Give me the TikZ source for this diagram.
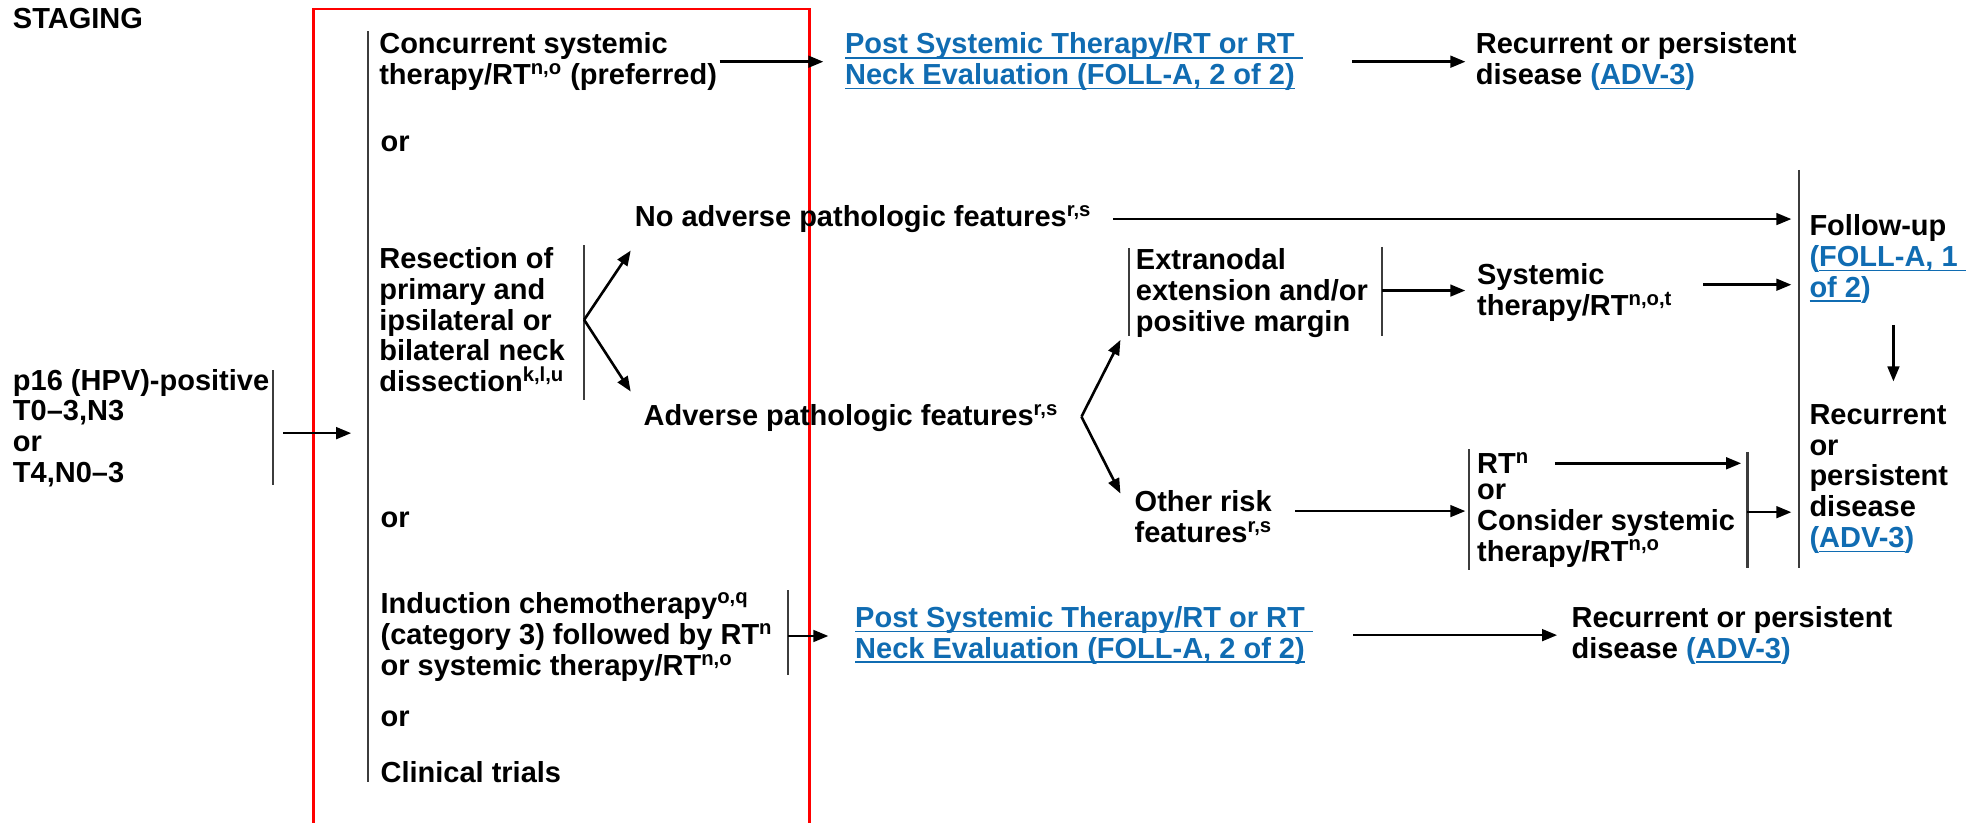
\documentclass[tikz,border=0pt]{standalone}
\usepackage{fontspec}
\setmainfont{Liberation Sans}
\usetikzlibrary{arrows.meta}
\definecolor{linkblue}{RGB}{16,108,178}
\definecolor{bargray}{RGB}{60,60,60}
\newcommand{\ulink}[1]{\setbox0\hbox{#1}\rlap{\rule[-2.4pt]{\wd0}{0.7pt}}\box0}

\begin{document}
\begin{tikzpicture}[x=0.6295pt, y=-0.6295pt, >={Triangle[length=7.5pt,width=5.8pt]},
  lbl/.style={anchor=west, inner sep=0pt, align=left, font=\fontsize{14.5}{15.4}\selectfont\bfseries},
  lnk/.style={lbl, text=linkblue},
  vline/.style={draw=bargray, line width=1.1pt},
  conn/.style={->, line width=1.3pt}]
\useasboundingbox (0,0) rectangle (1568,653);
\draw[red, line width=1.2pt] (249,7) rectangle (643,680);

\node[lbl] (stg) at (10,15) {STAGING};
\node[lbl] (p16) at (10,340) {p16 (HPV)-positive\\T0–3,N3\\or\\T4,N0–3};
\draw[vline] (217,294) -- coordinate[pos=.55] (b0) (217,385);
\draw[vline] (292,25) -- coordinate[midway] (B1) (292,621);

\node[lbl] (cst) at (301,49) {Concurrent systemic\\therapy/RT\textsuperscript{n,o} (preferred)};
\node[lnk] (pe1) at (671,49) {\ulink{Post Systemic Therapy/RT or RT\ }\\\ulink{Neck Evaluation (FOLL-A, 2 of 2)}};
\node[lbl] (rd1) at (1172,49) {Recurrent or persistent\\disease {\color{linkblue}(\ulink{ADV-3})}};
\node[lbl] (or1) at (302,114) {or};

\node[lbl] (res) at (301,254) {Resection of\\primary and\\ipsilateral or\\bilateral neck\\dissection\textsuperscript{k,l,u}};
\draw[vline] (464,195) -- coordinate[pos=.48] (b2) (464,318);
\node[lbl] (nap) at (504,174) {No adverse pathologic features\textsuperscript{r,s}};
\node[lbl] (ap) at (511,332) {Adverse pathologic features\textsuperscript{r,s}};
\node[lbl] (ext) at (902,233) {Extranodal\\extension and/or\\positive margin};
\draw[vline] (897,197) -- (897,267);
\draw[vline] (1098,196) -- coordinate[pos=.49] (b4) (1098,267);
\node[lbl] (sys) at (1173,232.5) {Systemic\\therapy/RT\textsuperscript{n,o,t}};
\draw[vline] (1429,135) -- coordinate[midway] (B2) (1429,451);
\node[lbl] (fu) at (1437,205.5) {Follow-up\\{\color{linkblue}(\ulink{FOLL-A, 1\ }}\\{\color{linkblue}\ulink{of 2})}};
\node[lbl] (rd2) at (1437,380.5) {Recurrent\\or\\persistent\\disease\\{\color{linkblue}(\ulink{ADV-3})}};
\node[lbl] (orf) at (901,410.5) {Other risk\\features\textsuperscript{r,s}};
\draw[vline] (1167,357) -- coordinate[pos=.51] (b5) (1167,453);
\node[lbl] (rt) at (1173,368) {RT\textsuperscript{n}};
\node[lbl] (cs) at (1173,417.5) {or\\Consider systemic\\therapy/RT\textsuperscript{n,o}};
\draw[vline] (1388,359) -- coordinate[pos=.52] (b6) (1388,451);

\node[lbl] (or2) at (302,413) {or};
\node[lbl] (ind) at (302,506) {Induction chemotherapy\textsuperscript{o,q}\\(category 3) followed by RT\textsuperscript{n}\\or systemic therapy/RT\textsuperscript{n,o}};
\draw[vline] (626,469) -- coordinate[pos=.54] (b7) (626,536);
\node[lnk] (pe2) at (679,504.5) {\ulink{Post Systemic Therapy/RT or RT\ }\\\ulink{Neck Evaluation (FOLL-A, 2 of 2)}};
\node[lbl] (rd3) at (1248,504.5) {Recurrent or persistent\\disease {\color{linkblue}(\ulink{ADV-3})}};
\node[lbl] (or3) at (302,571) {or};
\node[lbl] (ct) at (302,613) {Clinical trials};

\draw[conn, shorten <=5pt, shorten >=8.2pt] (b0) -- (b0 -| B1);
\draw[conn, shorten <=1.2pt, shorten >=10.7pt] (cst) -- (pe1);
\draw[conn, shorten <=24.5pt, shorten >=5pt] (pe1) -- (rd1);
\draw[conn] (b2) -- ([shift={(-3,25)}]nap.west);
\draw[conn] (b2) -- ([shift={(-10,-21)}]ap.west);
\draw[conn, shorten <=10.7pt, shorten >=3.8pt] (nap) -- (nap -| B2);
\draw[conn] ([shift={(18,-1)}]ap.east) coordinate (fk) -- ([shift={(-12,37)}]ext.west);
\draw[conn] (fk) -- ([shift={(-11,-18.5)}]orf.west);
\draw[conn, shorten >=5.7pt] (b4) -- (b4 -| sys.west);
\draw[conn, shorten <=15.1pt, shorten >=3.8pt] ([yshift=4pt]sys.east) coordinate (sy) -- (sy -| B2);
\draw[conn] ([shift={(67,52.5)}]fu.west) -- ([shift={(67,-77.5)}]rd2.west);
\draw[conn, shorten <=11.3pt, shorten >=1.9pt] (orf.east |- b5) -- (b5);
\draw[conn, shorten <=12.6pt, shorten >=3.1pt] (rt) -- (rt -| b6);
\draw[conn, shorten >=3.8pt] (b6) -- (b6 -| B2);
\draw[conn, shorten >=13.2pt] (b7) -- (b7 -| pe2.west);
\draw[conn, shorten <=20pt, shorten >=7pt] (pe2) -- (rd3);
\end{tikzpicture}
\end{document}
